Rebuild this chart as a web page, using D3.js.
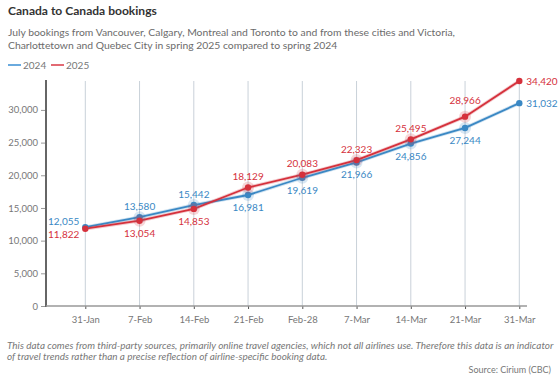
<!DOCTYPE html>
<html><head><meta charset="utf-8">
<script src="https://cdn.jsdelivr.net/npm/d3@7"></script>
<style>
body{margin:0;background:#fff;}
svg{display:block;font-family:Lato,"Noto Sans",sans-serif;}
</style></head><body>
<svg id="c" width="558" height="376"></svg>
<script>
const categories = ["31-Jan","7-Feb","14-Feb","21-Feb","Feb-28","7-Mar","14-Mar","21-Mar","31-Mar"];
const values2024 = [12055,13580,15442,16981,19619,21966,24856,27244,31032];
const values2025 = [11822,13054,14853,18129,20083,22323,25495,28966,34420];
const yTicks = [0,5000,10000,15000,20000,25000,30000];
// label placement: "a" above, "b" below, "la"/"lb" left, "r" right
const pos2024 = ["la","a","a","b","b","b","b","b","r"];
const pos2025 = ["lb","b","b","a","a","a","a","a","r"];

const svg = d3.select("#c");
const blue = "#3a88c4", red = "#d5313c";
const fmt = d3.format(",");

const x = d3.scalePoint().domain(categories).range([85.3, 519.3]);
const y = d3.scaleLinear().domain([0, 34500]).range([306, 80.5]);

function fit(sel, target){
  const n = sel.node(); let fs = parseFloat(sel.attr("font-size"));
  const w = n.getComputedTextLength();
  if (w > 0) sel.attr("font-size", (fs * target / w).toFixed(2));
}

// Title & subtitle
fit(svg.append("text").attr("x",8).attr("y",15).attr("font-size",13).attr("font-weight",700)
  .attr("fill","#333").text("Canada to Canada bookings"), 149);
const sub = ["July bookings from Vancouver, Calgary, Montreal and Toronto to and from these cities and Victoria,",
             "Charlottetown and Quebec City in spring 2025 compared to spring 2024"];
const s1 = svg.append("text").attr("x",8).attr("y",36).attr("font-size",11).attr("fill","#6b6b6b").text(sub[0]);
fit(s1, 447);
svg.append("text").attr("x",8).attr("y",48.5).attr("font-size",s1.attr("font-size")).attr("fill","#6b6b6b").text(sub[1]);

// Legend
const leg = [{k:"2024",c:"#6aaade",x:8},{k:"2025",c:"#e26a73",x:51}];
leg.forEach(d=>{
  svg.append("line").attr("x1",d.x).attr("x2",d.x+13).attr("y1",65).attr("y2",65).attr("stroke",d.c).attr("stroke-width",2);
  svg.append("text").attr("x",d.x+15).attr("y",68.5).attr("font-size",10).attr("fill","#777").text(d.k);
});

// Gridlines (vertical)
svg.append("g").selectAll("line").data(categories).join("line")
  .attr("x1",d=>x(d)).attr("x2",d=>x(d)).attr("y1",81).attr("y2",306)
  .attr("stroke","#c9d1d9").attr("stroke-width",1);

// Y axis
const yAxis = svg.append("g").attr("transform","translate(46,0)")
  .call(d3.axisLeft(y).tickValues(yTicks).tickFormat(fmt).tickSize(5).tickPadding(3));
yAxis.select(".domain").remove();
yAxis.selectAll(".tick line").attr("stroke","#999");
yAxis.selectAll("text").attr("fill","#777").attr("font-size",9.5).attr("font-family","Lato,'Noto Sans',sans-serif");
svg.append("line").attr("x1",46).attr("x2",46).attr("y1",80).attr("y2",307).attr("stroke","#666").attr("stroke-width",2);

// X axis
const xAxis = svg.append("g").attr("transform","translate(0,306)")
  .call(d3.axisBottom(x).tickSize(3).tickPadding(7));
xAxis.select(".domain").remove();
xAxis.selectAll(".tick line").attr("stroke","#555");
xAxis.selectAll("text").attr("fill","#777").attr("font-size",9.5).attr("font-family","Lato,'Noto Sans',sans-serif");
svg.append("line").attr("x1",46).attr("x2",527).attr("y1",306).attr("y2",306).attr("stroke","#999").attr("stroke-width",1.5);

// Series
const series = [
  {vals:values2024,c:blue,halo:"#3a88c4",pos:pos2024},
  {vals:values2025,c:red,halo:"#d5313c",pos:pos2025}
];
const line = d3.line().x((d,i)=>x(categories[i])).y(d=>y(d));
series.forEach(s=>{
  svg.append("path").datum(s.vals).attr("d",line).attr("fill","none").attr("stroke",s.c).attr("stroke-opacity",0.25).attr("stroke-width",3.5);
  svg.append("path").datum(s.vals).attr("d",line).attr("fill","none").attr("stroke",s.c).attr("stroke-width",1.8);
});
series.forEach(s=>{
  const g = svg.append("g");
  s.vals.forEach((v,i)=>{
    const cx = x(categories[i]), cy = y(v);
    if (i>0 && i<s.vals.length-1){
      g.append("circle").attr("cx",cx).attr("cy",cy).attr("r",6).attr("fill",s.halo).attr("fill-opacity",0.2);
    }
    g.append("circle").attr("cx",cx).attr("cy",cy).attr("r",3.2).attr("fill",s.c);
  });
});
series.forEach(s=>{
  s.vals.forEach((v,i)=>{
    const cx = x(categories[i]), cy = y(v), p = s.pos[i];
    const t = svg.append("text").attr("font-size",10).attr("fill",s.c).text(fmt(v));
    // lift "above" labels further where the next segment climbs steeply
    const next = s.vals[i+1];
    const steep = next !== undefined && (y(v) - y(next)) > 30 ? 5 : 0;
    if (p==="a") t.attr("x",cx).attr("y",cy-7.5-steep).attr("text-anchor","middle");
    else if (p==="b") t.attr("x",cx).attr("y",cy+16).attr("text-anchor","middle");
    else if (p==="la") t.attr("x",cx-6).attr("y",cy-2.5).attr("text-anchor","end");
    else if (p==="lb") t.attr("x",cx-6).attr("y",cy+9).attr("text-anchor","end");
    else if (p==="r") t.attr("x",cx+7).attr("y",cy+3.5).attr("text-anchor","start");
  });
});

// Footer
const f1 = svg.append("text").attr("x",7).attr("y",349).attr("font-size",9).attr("font-style","italic").attr("fill","#777")
  .text("This data comes from third-party sources, primarily online travel agencies, which not all airlines use. Therefore this data is an indicator");
fit(f1, 547);
svg.append("text").attr("x",7).attr("y",360).attr("font-size",f1.attr("font-size")).attr("font-style","italic").attr("fill","#777")
  .text("of travel trends rather than a precise reflection of airline-specific booking data.");
svg.append("text").attr("x",551).attr("y",373).attr("font-size",9).attr("text-anchor","end").attr("fill","#777").text("Source: Cirium (CBC)");
</script></body></html>
